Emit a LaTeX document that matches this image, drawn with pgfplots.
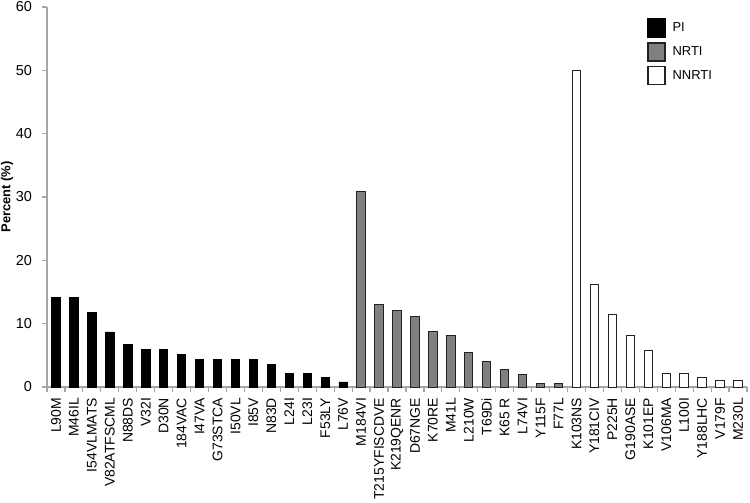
\documentclass[border=0pt]{standalone}
\usepackage{pgfplots}
\pgfplotsset{compat=1.18}
\usepackage{fontspec}
\setmainfont{Liberation Sans}
\definecolor{axgray}{HTML}{A6A6A6}
\definecolor{midgray}{HTML}{808080}
\definecolor{edge}{HTML}{222222}
\begin{document}
\begin{tikzpicture}
\begin{axis}[
  scale only axis,
  width=700bp, height=380bp,
  xmin=-0.5, xmax=38.5,
  ymin=0, ymax=60,
  ytick={0,10,...,60},
  axis x line*=bottom,
  axis y line*=left,
  axis line style={axgray, line width=1.2bp},
  tick style={axgray, line width=1.2bp},
  tick align=outside,
  major tick length=4.5bp,
  xtick={-0.5,0.5,...,38.5},
  xticklabels={},
  extra x ticks={0,...,38},
  extra x tick style={major tick length=0pt},
  extra x tick labels={L90M,M46IL,I54VLMATS,V82ATFSCML,N88DS,V32I,D30N,184VAC,I47VA,G73STCA,I50VL,I85V,N83D,L24I,L23I,F53LY,L76V,M184VI,T215YFISCDVE,K219QENR,D67NGE,K70RE,M41L,L210W,T69Di,K65 R,L74VI,Y115F,F77L,K103NS,Y181CIV,P225H,G190ASE,K101EP,V106MA,L100I,Y188LHC,V179F,M230L},
  x tick label style={rotate=90, anchor=east, font=\fontsize{14}{16}\selectfont, text=black},
  y tick label style={font=\fontsize{14.5}{16}\selectfont, text=black},
  /pgf/number format/assume math mode=true,
  xticklabel shift=7.5bp,
  yticklabel shift=7bp,
  ylabel={\bfseries Percent (\%)},
  ylabel style={font=\fontsize{13}{14}\selectfont},
  ylabel shift=-4bp,
  legend style={at={(0.853,0.977)}, anchor=north west, draw=none, fill=none,
    font=\fontsize{13}{15}\selectfont, row sep=4bp,
    /tikz/every odd column/.append style={column sep=5bp}},
  legend cell align=left,
  legend image code/.code={\draw[#1, line width=1.8bp] (0bp,-9bp) rectangle (16.5bp,9bp);},
]
\addplot[ybar, bar shift=0pt, bar width=8.4bp, fill=black, draw=black, line width=0.8bp] coordinates {
(0,14.1)(1,14.1)(2,11.8)(3,8.7)(4,6.7)(5,5.9)(6,5.9)(7,5.2)(8,4.4)(9,4.4)(10,4.4)(11,4.4)(12,3.6)(13,2.1)(14,2.1)(15,1.5)(16,0.8)};
\addlegendentry{PI}
\addplot[ybar, bar shift=0pt, bar width=8.4bp, fill=midgray, draw=edge, line width=1bp] coordinates {
(17,30.8)(18,13.1)(19,12.1)(20,11.2)(21,8.8)(22,8.1)(23,5.5)(24,4.0)(25,2.8)(26,1.9)(27,0.6)(28,0.6)};
\addlegendentry{NRTI}
\addplot[ybar, bar shift=0pt, bar width=8.4bp, fill=white, draw=edge, line width=1bp] coordinates {
(29,50.0)(30,16.2)(31,11.4)(32,8.1)(33,5.8)(34,2.1)(35,2.1)(36,1.5)(37,1.1)(38,1.1)};
\addlegendentry{NNRTI}
\end{axis}
\pgfresetboundingbox
\useasboundingbox (-47bp,-116bp) rectangle (703bp,387bp);
\end{tikzpicture}
\end{document}
